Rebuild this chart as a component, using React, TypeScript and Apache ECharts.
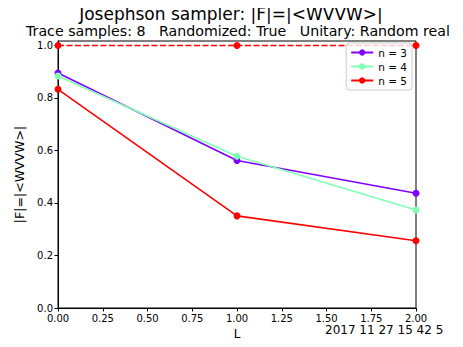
import React, { useEffect, useRef } from "react";
import * as echarts from "echarts";

const L = [0, 1, 2];
const n3 = [0.895, 0.562, 0.437];
const n4 = [0.884, 0.578, 0.373];
const n5 = [0.833, 0.351, 0.256];
const ref = [1.0, 1.0, 1.0];
const xTicks = [0, 0.25, 0.5, 0.75, 1.0, 1.25, 1.5, 1.75, 2.0];
const yTicks = [0, 0.2, 0.4, 0.6, 0.8, 1.0];

const FONT = "DejaVu Sans";

export default function App() {
  const ref1 = useRef<HTMLDivElement>(null);
  useEffect(() => {
    const chart = echarts.init(ref1.current!, null, { renderer: "svg" });
    const mk = (name: string, data: number[], color: string, dashed = false) => ({
      name,
      type: "line",
      data: L.map((x, i) => [x, data[i]]),
      symbol: "circle",
      symbolSize: 7,
      showSymbol: true,
      clip: true,
      lineStyle: { color, width: 1.6, type: dashed ? [6, 2.5] : "solid" },
      itemStyle: { color },
      z: dashed ? 1 : 2,
    });
    chart.setOption({
      animation: false,
      backgroundColor: "#fff",
      textStyle: { fontFamily: FONT },
      legend: {
        data: ["n = 3", "n = 4", "n = 5"],
        orient: "vertical",
        right: 51,
        top: 43,
        itemWidth: 22,
        itemHeight: 8,
        itemGap: 3,
        padding: [4, 5, 4, 4],
        borderColor: "#ccc",
        borderWidth: 1,
        borderRadius: 3,
        backgroundColor: "rgba(255,255,255,0.8)",
        textStyle: { fontFamily: FONT, fontSize: 10.5, color: "#000" },
      },
      grid: {
        left: 58,
        right: 47,
        top: 41,
        bottom: 39,
        show: true,
        borderColor: "#000",
        borderWidth: 1,
        backgroundColor: "transparent",
      },
      xAxis: {
        type: "value",
        min: 0,
        max: 2,
        interval: 0.25,
        name: "L",
        nameLocation: "middle",
        nameGap: 19,
        nameTextStyle: { fontFamily: FONT, fontSize: 12, color: "#000" },
        axisLine: { show: true, lineStyle: { color: "#000" } },
        axisTick: { show: true, length: 3.5, lineStyle: { color: "#000" } },
        axisLabel: {
          fontFamily: FONT,
          fontSize: 10,
          color: "#000",
          margin: 5,
          formatter: (v: number) => v.toFixed(2),
          customValues: xTicks,
        },
        splitLine: { show: false },
      },
      yAxis: {
        type: "value",
        min: 0,
        max: 1.017,
        name: "|F|=|<WVVW>|",
        nameLocation: "middle",
        nameGap: 25,
        nameRotate: 90,
        nameTextStyle: { fontFamily: FONT, fontSize: 12.5, color: "#000" },
        axisLine: { show: true, lineStyle: { color: "#000" } },
        axisTick: { show: true, length: 3.5, lineStyle: { color: "#000" }, customValues: yTicks },
        axisLabel: {
          fontFamily: FONT,
          fontSize: 10,
          color: "#000",
          margin: 5,
          formatter: (v: number) => v.toFixed(1),
          customValues: yTicks,
        },
        splitLine: { show: false },
      },
      graphic: [
        {
          type: "text",
          x: 231,
          y: 14,
          style: {
            text: "Josephson sampler: |F|=|<WVVW>|",
            fontFamily: FONT,
            fontSize: 17,
            fill: "#000",
            align: "center",
            verticalAlign: "middle",
          },
        },
        {
          type: "text",
          x: 238,
          y: 31,
          style: {
            text: "Trace samples: 8   Randomized: True   Unitary: Random real",
            fontFamily: FONT,
            fontSize: 14.2,
            fill: "#000",
            align: "center",
            verticalAlign: "middle",
          },
        },
        {
          type: "text",
          left: 325,
          top: 324,
          style: { text: "2017 11 27 15 42 5", fontFamily: FONT, fontSize: 12, fill: "#000" },
        },
      ],
      series: [
        mk("ref", ref, "#ff0000", true),
        mk("n = 3", n3, "#8000ff"),
        mk("n = 4", n4, "#80ffb4"),
        mk("n = 5", n5, "#ff0000"),
      ],
    });
    return () => chart.dispose();
  }, []);
  return <div ref={ref1} style={{ width: 463, height: 347, margin: -8 }} />;
}
